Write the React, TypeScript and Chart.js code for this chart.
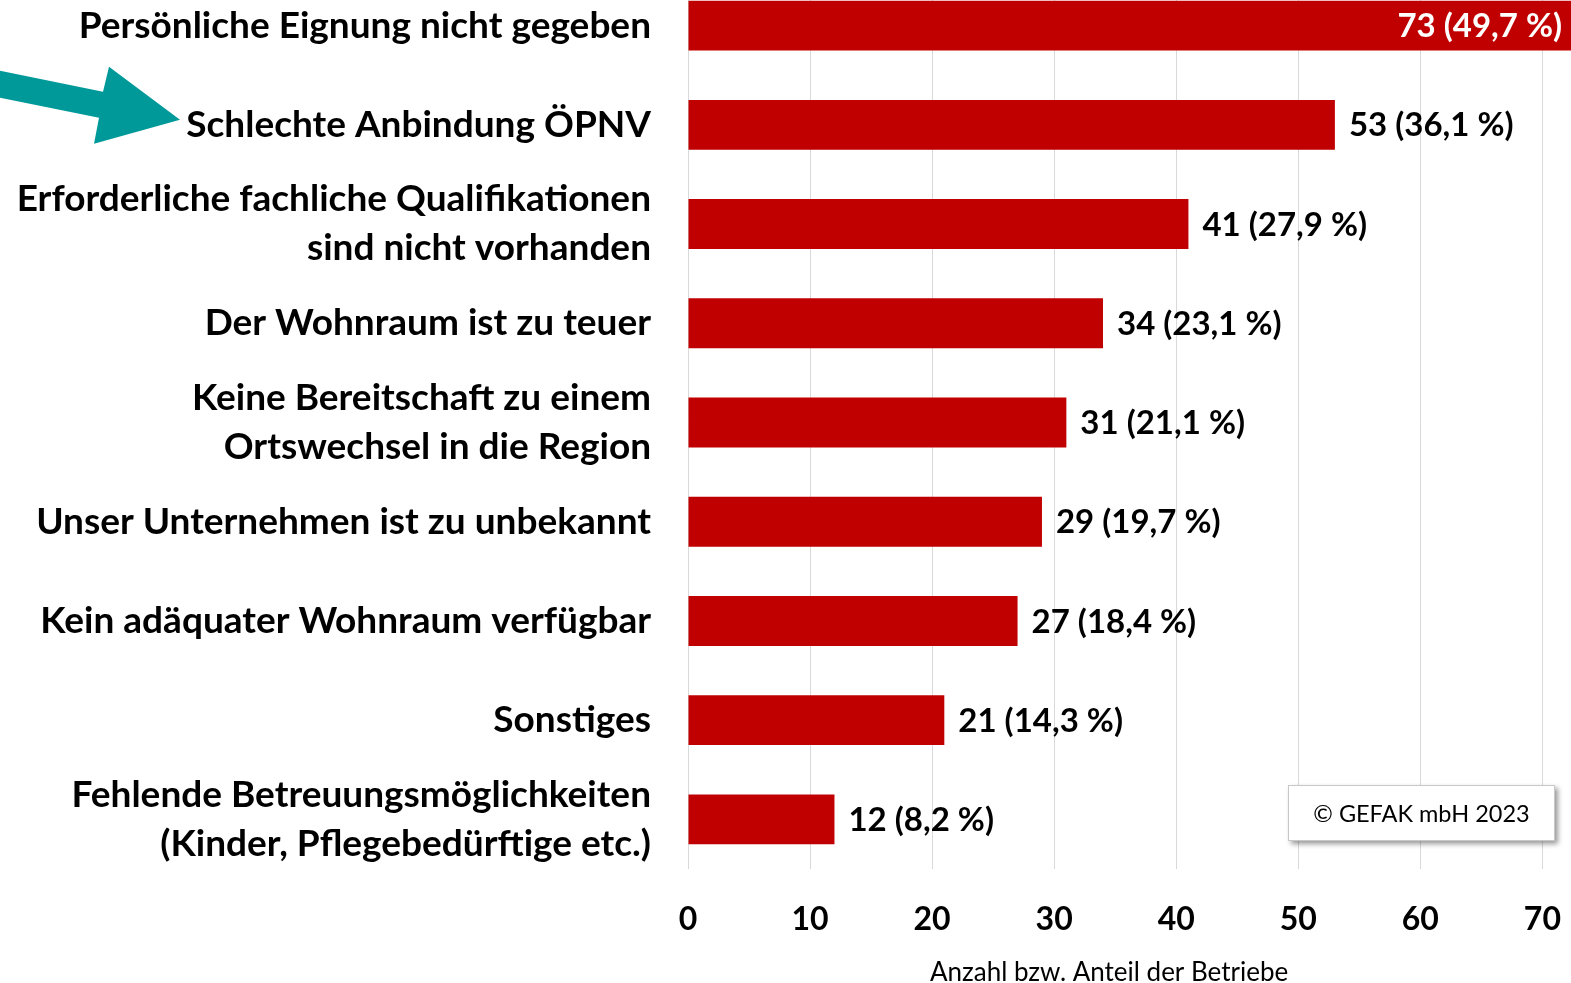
import React, { useEffect, useRef } from "react";
import { Chart, registerables } from "chart.js";

Chart.register(...registerables);

const categories: (string | string[])[] = [
  "Persönliche Eignung nicht gegeben",
  "Schlechte Anbindung ÖPNV",
  ["Erforderliche fachliche Qualifikationen", "sind nicht vorhanden"],
  "Der Wohnraum ist zu teuer",
  ["Keine Bereitschaft zu einem", "Ortswechsel in die Region"],
  "Unser Unternehmen ist zu unbekannt",
  "Kein adäquater Wohnraum verfügbar",
  "Sonstiges",
  ["Fehlende Betreuungsmöglichkeiten", "(Kinder, Pflegebedürftige etc.)"],
];
const counts = [73, 53, 41, 34, 31, 29, 27, 21, 12];
const shares = ["49,7", "36,1", "27,9", "23,1", "21,1", "19,7", "18,4", "14,3", "8,2"];
const xTickValues = [0, 10, 20, 30, 40, 50, 60, 70];
const xAxisTitle = "Anzahl bzw. Anteil der Betriebe";
const copyrightText = "© GEFAK mbH 2023";

const FONT = "Lato, 'Noto Sans', sans-serif";
const BAR_COLOR = "#C00000";
const ARROW_COLOR = "#009999";
const CAT_SIZE = 37;
const VALUE_SIZE = 33;
const TICK_SIZE = 32;

const valueLabels = {
  id: "valueLabels",
  afterDatasetsDraw(chart: any) {
    const ctx = chart.ctx;
    const meta = chart.getDatasetMeta(0);
    ctx.save();
    ctx.font = `bold ${VALUE_SIZE}px ${FONT}`;
    ctx.textBaseline = "middle";
    meta.data.forEach((bar: any, i: number) => {
      const text = `${counts[i]} (${shares[i]} %)`;
      const w = ctx.measureText(text).width;
      const { x, y } = bar.getProps(["x", "y"], true);
      if (x + 14 + w > chart.chartArea.right) {
        ctx.fillStyle = "#ffffff";
        ctx.textAlign = "right";
        ctx.fillText(text, x - 17, y + 1);
      } else {
        ctx.fillStyle = "#000000";
        ctx.textAlign = "left";
        ctx.fillText(text, x + 14, y + 1);
      }
    });
    ctx.restore();
  },
};

const decorations = {
  id: "decorations",
  afterDraw(chart: any) {
    const ctx = chart.ctx;
    const area = chart.chartArea;
    const yScale = chart.scales.y;
    const xScale = chart.scales.x;
    ctx.save();

    // arrow pointing at the second category label
    const yc = yScale.getPixelForValue(1);
    const pts: [number, number][] = [
      [-10, -56],
      [103, -33],
      [109, -58],
      [180, -5],
      [94, 19],
      [99, -7],
      [-10, -29],
    ];
    ctx.fillStyle = ARROW_COLOR;
    ctx.beginPath();
    pts.forEach(([px, py], i) => {
      if (i === 0) ctx.moveTo(px, yc + py);
      else ctx.lineTo(px, yc + py);
    });
    ctx.closePath();
    ctx.fill();

    // axis title
    ctx.fillStyle = "#000000";
    ctx.font = `26px ${FONT}`;
    ctx.textAlign = "center";
    ctx.textBaseline = "middle";
    ctx.fillText(xAxisTitle, xScale.getPixelForValue(34.5), area.bottom + 104);

    // copyright box
    const bx = 1288;
    const by = area.bottom - 84;
    const bw = 267;
    const bh = 56;
    ctx.save();
    ctx.shadowColor = "rgba(0,0,0,0.4)";
    ctx.shadowBlur = 5;
    ctx.shadowOffsetX = 3;
    ctx.shadowOffsetY = 3;
    ctx.fillStyle = "#ffffff";
    ctx.fillRect(bx, by, bw, bh);
    ctx.restore();
    ctx.strokeStyle = "#c8c8c8";
    ctx.lineWidth = 1;
    ctx.strokeRect(bx + 0.5, by + 0.5, bw - 1, bh - 1);
    ctx.fillStyle = "#000000";
    ctx.font = `23.5px ${FONT}`;
    ctx.textAlign = "center";
    ctx.textBaseline = "middle";
    ctx.fillText(copyrightText, bx + bw / 2, by + bh / 2 + 1);

    ctx.restore();
  },
};

export default function App() {
  const canvasRef = useRef<HTMLCanvasElement | null>(null);

  useEffect(() => {
    const canvas = canvasRef.current;
    if (!canvas) return;
    const chart = new Chart(canvas, {
      type: "bar",
      data: {
        labels: categories,
        datasets: [
          {
            data: counts,
            backgroundColor: BAR_COLOR,
            borderWidth: 0,
            barPercentage: 1,
            categoryPercentage: 0.503,
          },
        ],
      },
      options: {
        indexAxis: "y",
        responsive: false,
        animation: false,
        devicePixelRatio: 1,
        layout: { padding: 0 },
        plugins: {
          legend: { display: false },
          tooltip: { enabled: false },
          title: { display: false },
        },
        scales: {
          x: {
            type: "linear",
            min: 0,
            max: 73,
            afterBuildTicks: (scale: any) => {
              scale.ticks = xTickValues.map((v) => ({ value: v }));
            },
            afterFit: (scale: any) => {
              scale.height = 114;
              scale.paddingLeft = 0;
              scale.paddingRight = 0;
            },
            ticks: {
              color: "#000000",
              font: { family: FONT, size: TICK_SIZE, weight: "bold" },
              padding: 31,
              maxRotation: 0,
              autoSkip: false,
            },
            grid: {
              color: "#d9d9d9",
              lineWidth: 1,
              drawTicks: false,
            },
            border: { display: false },
          },
          y: {
            type: "category",
            afterFit: (scale: any) => {
              scale.width = 688;
              scale.paddingTop = 0;
              scale.paddingBottom = 0;
            },
            ticks: {
              color: "#000000",
              font: { family: FONT, size: CAT_SIZE, weight: "bold", lineHeight: 49 / 37 },
              padding: 37,
              autoSkip: false,
            },
            grid: { display: false, drawTicks: false },
            border: { display: false },
          },
        },
      },
      plugins: [valueLabels, decorations],
    } as any);
    return () => chart.destroy();
  }, []);

  return (
    <div
      style={{
        position: "fixed",
        left: 0,
        top: 0,
        width: "100vw",
        height: "100vh",
        overflow: "hidden",
        background: "#ffffff",
      }}
    >
      <canvas
        ref={canvasRef}
        width={1579}
        height={1007}
        style={{ position: "absolute", left: 0, top: -24, width: 1579, height: 1007 }}
      />
    </div>
  );
}
